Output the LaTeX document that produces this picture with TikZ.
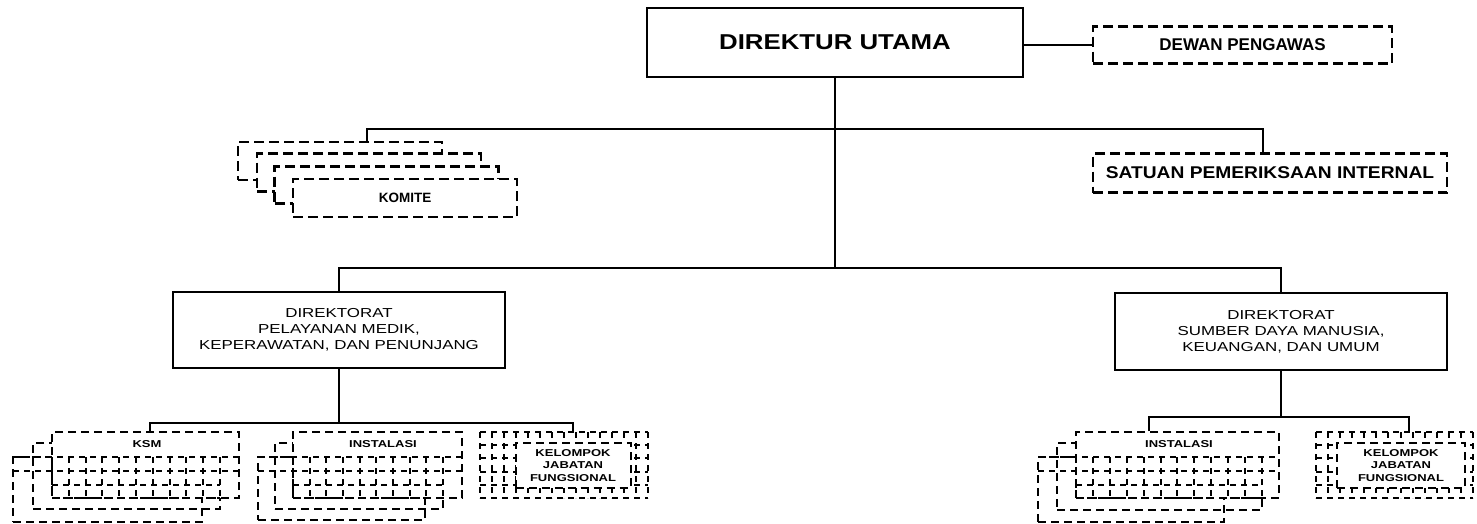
\documentclass[tikz,border=0pt]{standalone}
\usepackage{fontspec}
\setmainfont{Liberation Sans}
\newfontfamily\headfont[FakeStretch=1.2]{Liberation Sans}
\newfontfamily\spifont[FakeStretch=1.13]{Liberation Sans}
\newfontfamily\dirfont[FakeStretch=1.3]{Liberation Sans}
\newfontfamily\widefont[FakeStretch=1.3]{Liberation Sans}
\usetikzlibrary{positioning}

\begin{document}
\begin{tikzpicture}[
  x=1pt, y=-1pt,
  solidbox/.style={draw, line width=2.4pt, inner sep=0pt, align=center, fill=white},
  dashbox/.style={draw, line width=2.2pt, dash pattern=on 10pt off 5pt, fill=white,
                  inner sep=0pt, align=center},
  stackbox/.style={draw, line width=2pt, dash pattern=on 8pt off 5pt, inner sep=0pt},
  stackfront/.style={stackbox, fill=white},
  kjfbox/.style={draw, line width=2pt, dash pattern=on 8pt off 5pt, fill=white,
                 inner sep=0pt, align=center, font=\widefont\bfseries\fontsize{10}{12.5}\selectfont},
  gridline/.style={line width=2pt, dash pattern=on 6pt off 5pt},
  smalltxt/.style={font=\widefont\bfseries\fontsize{10}{12.5}\selectfont},
  link/.style={line width=2.4pt},
]
\useasboundingbox[fill=white] (0,0) rectangle (1477,523);

% top level
\node[solidbox, minimum width=376pt, minimum height=69pt,
      font=\headfont\bfseries\fontsize{21.5}{25}\selectfont] (dirut) at (835,42.5) {DIREKTUR UTAMA};
\node[dashbox, minimum width=299pt, minimum height=37pt,
      font=\bfseries\fontsize{17}{20}\selectfont] (dewan) at (1242.5,45) {DEWAN PENGAWAS};
\node[dashbox, minimum width=354pt, minimum height=39pt,
      font=\spifont\bfseries\fontsize{17}{20}\selectfont] (spi) at (1270,173) {SATUAN PEMERIKSAAN INTERNAL};

\node[dashbox, minimum width=204pt, minimum height=38pt] (komA) at (340,161) {};
\node[dashbox, minimum width=224pt, minimum height=38pt] (komB) at (369,172.5) {};
\node[dashbox, minimum width=224pt, minimum height=37pt] (komC) at (386.5,185) {};
\node[dashbox, minimum width=224pt, minimum height=38pt,
      font=\bfseries\fontsize{13.5}{16}\selectfont] (komD) at (405,198) {KOMITE};

\node[solidbox, minimum width=332pt, minimum height=76pt,
      font=\dirfont\fontsize{13}{16}\selectfont] (dirL) at (339,330)
      {DIREKTORAT\\PELAYANAN MEDIK,\\KEPERAWATAN, DAN PENUNJANG};
\node[solidbox, minimum width=332pt, minimum height=77pt,
      font=\dirfont\fontsize{13}{16}\selectfont] (dirR) at (1281,331.5)
      {DIREKTORAT\\SUMBER DAYA MANUSIA,\\KEUANGAN, DAN UMUM};

\coordinate (jKom) at (367,129);
\coordinate (jSpi) at (1263,129);
\coordinate (jL) at (339,268);
\coordinate (jR) at (1281,268);

\draw[link] (dirut.east |- dewan.west) -- (dewan.west);
\draw[link] (dirut.south) -- (dirut.south |- jL);
\draw[link] (jKom |- komA.north) -- (jKom) -- (jSpi) -- (jSpi |- spi.north);
\draw[link] (dirL.north) -- (jL) -- (jR) -- (dirR.north);

% KSM stack
\node[stackbox, minimum width=189pt, minimum height=65pt] (ksmA) at (107.5,489.5) {};
\node[stackbox, minimum width=187pt, minimum height=66pt] (ksmB) at (126.5,476) {};
\node[stackfront, minimum width=187pt, minimum height=66pt] (ksmC) at (145.5,465) {};
\node[smalltxt] (ksmT) at (147,444) {KSM};
\foreach \i in {0,...,10} \draw[gridline] ({52+16.8*\i},457) -- ++(0,41);
\foreach \yy in {457,471} \draw[gridline] (13,\yy) -- (239,\yy);
\foreach \yy in {485,498} \draw[gridline] (52,\yy) -- (220,\yy);

% instalasi, left
\node[stackbox, minimum width=167pt, minimum height=63pt] (insLA) at (341.5,488.5) {};
\node[stackbox, minimum width=168pt, minimum height=66pt] (insLB) at (359,476) {};
\node[stackfront, minimum width=169pt, minimum height=66pt] (insLC) at (377.5,465) {};
\node[smalltxt] (insLT) at (383,444) {INSTALASI};
\foreach \i in {0,...,9} \draw[gridline] ({293+16.67*\i},457) -- ++(0,41);
\foreach \yy in {457,471} \draw[gridline] (258,\yy) -- (462,\yy);
\foreach \yy in {485,498} \draw[gridline] (293,\yy) -- (443,\yy);

% kelompok jabatan fungsional, left
\foreach \i in {0,...,14} \draw[gridline] ({480+12*\i},432) -- ++(0,66);
\foreach \j in {0,...,5} \draw[gridline] (480,{432+13.2*\j}) -- ++(168,0);
\node[kjfbox, minimum width=115pt, minimum height=45pt] (kjfL) at (573,465.5)
      {KELOMPOK\\JABATAN\\FUNGSIONAL};

\coordinate (jKsm) at (150,423);
\coordinate (jKjfL) at (573,423);
\draw[link] (jKsm |- ksmC.north) -- (jKsm) -- (jKjfL) -- (jKjfL |- ksmC.north);
\draw[link] (dirL.south) -- (dirL.south |- jKsm);

% instalasi, right
\node[stackbox, minimum width=186pt, minimum height=65pt] (insRA) at (1131,489.5) {};
\node[stackbox, minimum width=205pt, minimum height=67pt] (insRB) at (1159.5,476.5) {};
\node[stackfront, minimum width=203pt, minimum height=66pt] (insRC) at (1177.5,465) {};
\node[smalltxt] (insRT) at (1179,444) {INSTALASI};
\foreach \i in {0,...,11} \draw[gridline] ({1076+16.9*\i},457) -- ++(0,41);
\foreach \yy in {457,471} \draw[gridline] (1038,\yy) -- (1279,\yy);
\foreach \yy in {485,498} \draw[gridline] (1076,\yy) -- (1262,\yy);

% kelompok jabatan fungsional, right
\foreach \i in {0,...,13} \draw[gridline] ({1316+12.08*\i},432) -- ++(0,66);
\foreach \j in {0,...,5} \draw[gridline] (1316,{432+13.2*\j}) -- ++(157,0);
\node[kjfbox, minimum width=128pt, minimum height=45pt] (kjfR) at (1401,465.5)
      {KELOMPOK\\JABATAN\\FUNGSIONAL};

\coordinate (jInsR) at (1149,417);
\coordinate (jKjfR) at (1409,417);
\draw[link] (jInsR |- insRC.north) -- (jInsR) -- (jKjfR) -- (jKjfR |- insRC.north);
\draw[link] (dirR.south) -- (dirR.south |- jInsR);
\end{tikzpicture}
\end{document}
